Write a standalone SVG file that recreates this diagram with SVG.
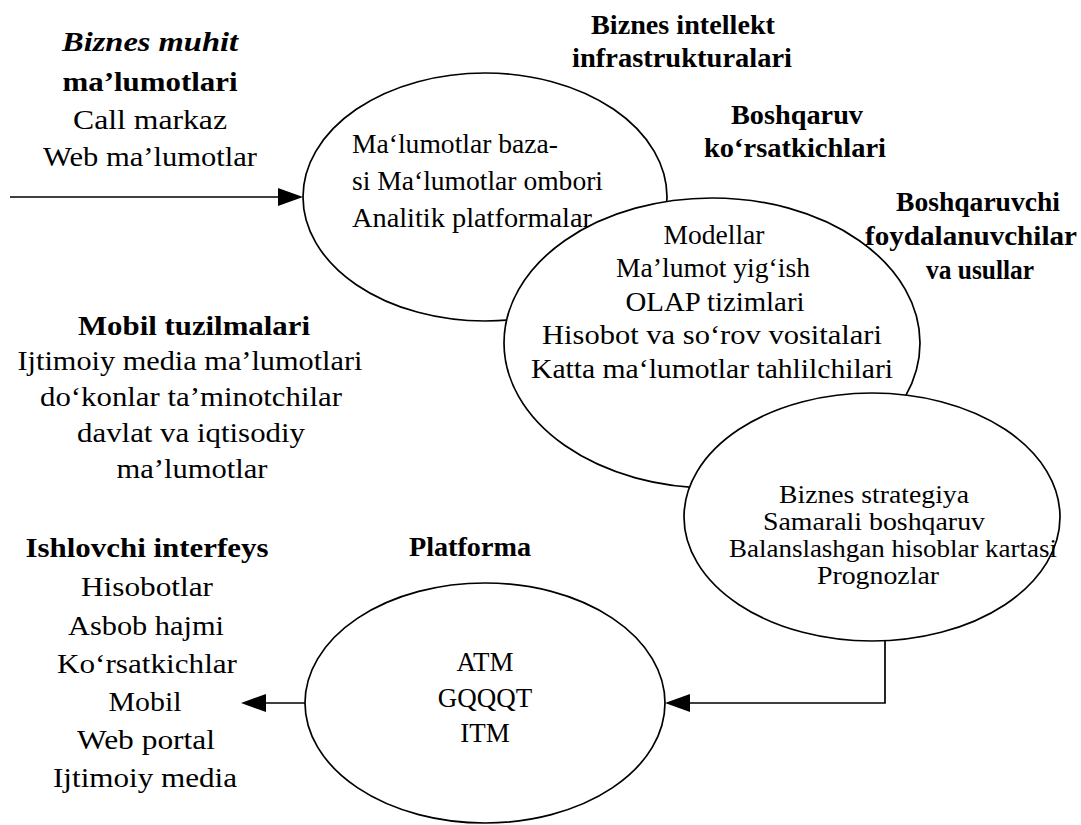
<svg xmlns="http://www.w3.org/2000/svg" width="1081" height="825" viewBox="0 0 1081 825">
<style>
.bg{fill:#fff}
.el{fill:#fff;stroke:#000;stroke-width:1.7}
.ln{fill:none;stroke:#000;stroke-width:1.7}
.ah{fill:#000}
text{font-family:"Liberation Serif","Times New Roman",serif;font-size:27px;fill:#000}
.c{text-anchor:middle}
.b{font-weight:bold}
.bi{font-weight:bold;font-style:italic}
.s{font-size:26px}
</style>
<rect class="bg" x="0" y="0" width="1081" height="825"/>
<g id="n-infra">
<ellipse class="el" cx="485" cy="197" rx="182" ry="124"/>
<text x="352" y="153" textLength="206" lengthAdjust="spacingAndGlyphs">Ma‘lumotlar baza-</text>
<text x="352" y="190" textLength="251" lengthAdjust="spacingAndGlyphs">si Ma‘lumotlar ombori</text>
<text x="352" y="227" textLength="240" lengthAdjust="spacingAndGlyphs">Analitik platformalar</text>
</g>
<g id="n-models">
<ellipse class="el" cx="712" cy="343" rx="208" ry="145"/>
<text class="c" x="714" y="244" textLength="101" lengthAdjust="spacingAndGlyphs">Modellar</text>
<text class="c" x="713" y="277" textLength="194" lengthAdjust="spacingAndGlyphs">Ma’lumot yig‘ish</text>
<text class="c" x="715" y="311" textLength="179" lengthAdjust="spacingAndGlyphs">OLAP tizimlari</text>
<text class="c" x="712" y="344" textLength="340" lengthAdjust="spacingAndGlyphs">Hisobot va so‘rov vositalari</text>
<text class="c" x="712" y="378" textLength="362" lengthAdjust="spacingAndGlyphs">Katta ma‘lumotlar tahlilchilari</text>
</g>
<g id="n-strategy">
<ellipse class="el" cx="872" cy="517" rx="188" ry="124"/>
<text class="c s" x="874" y="503" textLength="190" lengthAdjust="spacingAndGlyphs">Biznes strategiya</text>
<text class="c s" x="874" y="530" textLength="222" lengthAdjust="spacingAndGlyphs">Samarali boshqaruv</text>
<text class="c s" x="893" y="557" textLength="328" lengthAdjust="spacingAndGlyphs">Balanslashgan hisoblar kartasi</text>
<text class="c s" x="878" y="584" textLength="122" lengthAdjust="spacingAndGlyphs">Prognozlar</text>
</g>
<g id="n-platform">
<ellipse class="el" cx="485" cy="703" rx="180" ry="120"/>
<text class="c" x="485" y="671">ATM</text>
<text class="c" x="485" y="707">GQQQT</text>
<text class="c" x="485" y="742">ITM</text>
</g>
<g id="connectors">
<line class="ln" x1="10" y1="197" x2="282" y2="197"/>
<polygon class="ah" points="278,188 303,197 278,206"/>
<polyline class="ln" points="885,641 885,703 688,703"/>
<polygon class="ah" points="690,694 665,703 690,712"/>
<line class="ln" x1="305" y1="703" x2="262" y2="703"/>
<polygon class="ah" points="266,694 241,703 266,712"/>
</g>
<g id="l-biznes-muhit">
<text class="c bi" x="150" y="51" textLength="176" lengthAdjust="spacingAndGlyphs">Biznes muhit</text>
<text class="c b" x="150" y="91" textLength="175" lengthAdjust="spacingAndGlyphs">ma’lumotlari</text>
<text class="c" x="150" y="129" textLength="154" lengthAdjust="spacingAndGlyphs">Call markaz</text>
<text class="c" x="150" y="166" textLength="214" lengthAdjust="spacingAndGlyphs">Web ma’lumotlar</text>
</g>
<g id="l-bi-infra">
<text class="c b" x="683" y="34" textLength="184" lengthAdjust="spacingAndGlyphs">Biznes intellekt</text>
<text class="c b" x="682" y="67" textLength="220" lengthAdjust="spacingAndGlyphs">infrastrukturalari</text>
</g>
<g id="l-boshqaruv">
<text class="c b" x="797" y="124" textLength="132" lengthAdjust="spacingAndGlyphs">Boshqaruv</text>
<text class="c b" x="795" y="157" textLength="182" lengthAdjust="spacingAndGlyphs">ko‘rsatkichlari</text>
</g>
<g id="l-boshqaruvchi">
<text class="c b" x="978" y="211" textLength="164" lengthAdjust="spacingAndGlyphs">Boshqaruvchi</text>
<text class="c b" x="971" y="245" textLength="212" lengthAdjust="spacingAndGlyphs">foydalanuvchilar</text>
<text class="c b" x="980" y="279" textLength="108" lengthAdjust="spacingAndGlyphs">va usullar</text>
</g>
<g id="l-mobil">
<text class="c b" x="194" y="335" textLength="232" lengthAdjust="spacingAndGlyphs">Mobil tuzilmalari</text>
<text class="c" x="190" y="370" textLength="345" lengthAdjust="spacingAndGlyphs">Ijtimoiy media ma’lumotlari</text>
<text class="c" x="191" y="406" textLength="302" lengthAdjust="spacingAndGlyphs">do‘konlar ta’minotchilar</text>
<text class="c" x="191" y="442" textLength="228" lengthAdjust="spacingAndGlyphs">davlat va iqtisodiy</text>
<text class="c" x="192" y="478" textLength="151" lengthAdjust="spacingAndGlyphs">ma’lumotlar</text>
</g>
<g id="l-platforma">
<text class="c b" x="470" y="556" textLength="122" lengthAdjust="spacingAndGlyphs">Platforma</text>
</g>
<g id="l-interfeys">
<text class="c b" x="147" y="557" textLength="243" lengthAdjust="spacingAndGlyphs">Ishlovchi interfeys</text>
<text class="c" x="147" y="596" textLength="132" lengthAdjust="spacingAndGlyphs">Hisobotlar</text>
<text class="c" x="146" y="635" textLength="156" lengthAdjust="spacingAndGlyphs">Asbob hajmi</text>
<text class="c" x="147" y="673" textLength="180" lengthAdjust="spacingAndGlyphs">Ko‘rsatkichlar</text>
<text class="c" x="145" y="711" textLength="73" lengthAdjust="spacingAndGlyphs">Mobil</text>
<text class="c" x="146" y="749" textLength="138" lengthAdjust="spacingAndGlyphs">Web portal</text>
<text class="c" x="145" y="787" textLength="184" lengthAdjust="spacingAndGlyphs">Ijtimoiy media</text>
</g>
</svg>
